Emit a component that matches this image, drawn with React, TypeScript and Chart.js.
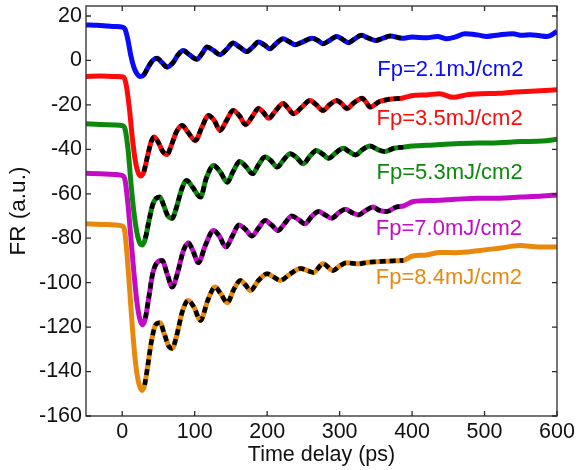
import React, { useEffect, useRef } from "react";
import { Chart, registerables } from "chart.js";

Chart.register(...registerables);

// ---- axis ticks ----
const xTicks = [0, 100, 200, 300, 400, 500, 600];
const yTicks = [-160, -140, -120, -100, -80, -60, -40, -20, 0, 20];

// ---- series: time delay (ps) and FR (a.u.) ----
const blueT = [-50,-35,-20,-10,0,4,8,12,16,20,25,30,35,42,48,55,62,70,77,84,93,103,110,117,126,135,144,153,162,172,180,188,196,204,212,222,230,239,250,262,270,277,286,296,304,312,320,330,340,350,360,370,386,400,420,435,448,460,473,490,503,520,539,552,563,575,586,600];
const blueR = [16,15.8,15.5,15.3,15,14,9,2,-3,-5.8,-7.2,-6.5,-3.5,0,1,-1,-3,-1,2.5,4.5,2.5,0.5,3,6,4.5,2.6,5,7.8,6,4,6,8.3,7,5.3,7.5,9.8,8.5,7.1,8.5,10,9,7.5,9,10.8,9.5,8,9.5,11.3,10,9,10,11,10,10.5,10.2,10.8,9.8,10.6,12,11.5,10.8,11.5,12,11.3,11.6,11.2,10.8,13];

const redT = [-50,-30,-10,0,3,6,10,14,18,22,26,30,35,40,44,50,56,62,68,75,83,90,101,110,119,127,135,144,153,162,170,180,188,195,202,212,222,229,236,248,259,268,277,286,296,303,310,320,331,337,342,355,368,386,401,420,438,457,475,494,520,539,570,600];
const redR = [-7.2,-7,-7.2,-7.3,-8,-12,-22,-35,-45,-50.5,-52,-50,-43,-36.5,-34.5,-37,-41,-42.3,-38,-32,-29.3,-32,-36,-30,-24.8,-27,-31.5,-27,-22.5,-25,-28.8,-25,-21.6,-23.5,-26,-22.5,-19.4,-21.5,-24,-21,-18,-20,-22.5,-20,-18,-19.5,-21.6,-19,-17,-19,-21,-18.5,-17.5,-17,-15.8,-15.5,-15,-16.6,-15.5,-15,-14.8,-14.3,-13.8,-13.2];

const greenT = [-50,-30,-10,0,4,8,12,16,20,24,28,32,37,42,47,52,57,63,69,75,82,89,97,108,116,126,135,145,153,162,170,180,188,197,205,214,222,232,240,250,258,268,276,285,295,305,313,322,332,342,352,362,375,388,400,430,460,490,520,550,580,600];
const greenR = [-28.5,-28.8,-29,-29.3,-31,-40,-55,-68,-77,-82,-83,-80,-72,-65,-62,-61.5,-65,-70,-71,-66,-58,-54,-57,-61.5,-53,-47.3,-50,-54.8,-50,-45.5,-47.5,-51,-47,-43.5,-45,-48,-45,-42,-43.5,-46.5,-43.5,-40.5,-42,-44,-41.5,-39.5,-41,-42.5,-40,-38.5,-40,-41,-39.5,-39,-38.5,-38,-37.5,-37.2,-37,-36.5,-36.3,-35.5];

const magentaT = [-50,-30,-10,0,4,8,12,16,20,24,28,32,37,42,48,55,62,69,76,84,91,98,105,115,126,134,143,152,161,170,179,188,197,206,215,225,234,243,252,262,271,280,289,299,308,317,326,336,346,355,365,378,388,402,430,460,490,520,550,580,600];
const magentaR = [-50.8,-51,-51.3,-51.8,-54,-65,-80,-95,-108,-116,-119,-116,-106,-96,-91,-90,-96,-102,-96,-86,-82,-86,-91,-83,-76.5,-79,-84,-79,-74,-76,-79,-75.5,-72,-74,-76.5,-73,-70,-71.5,-73.5,-70,-68,-69.5,-71,-68.5,-67,-68.5,-69.5,-67.5,-66,-67.5,-68,-66,-65.5,-63.5,-63,-62.5,-62,-62,-61.5,-61,-60.5];

const orangeT = [-50,-30,-10,0,3,6,10,14,18,22,27,31,35,40,46,52,58,64,69,75,83,91,99,108,118,128,136,145,154,163,170,177,188,200,209,218,232,246,255,264,277,291,300,310,325,340,356,372,388,401,420,438,460,494,520,549,575,600];
const orangeR = [-73.5,-73.8,-74,-74.5,-76,-85,-102,-120,-135,-144,-148.5,-146,-138,-127,-119,-118,-123,-128.5,-129.6,-124,-113,-108,-111,-117,-108,-102,-105,-109,-103,-99,-101,-103.5,-99,-96,-97.5,-99,-96,-93.6,-94.5,-95.4,-91.5,-94.5,-92.5,-91,-91.5,-90.8,-90.5,-90.2,-90,-88,-87.5,-86.4,-86.5,-85.5,-84.5,-83.3,-84,-84];

// ---- fit ranges (ps) ----
const fitStart = [30, 30, 32, 32, 31];
const fitEnd = [388, 388, 388, 388, 388];

// ---- labels ----
const labelTexts = ["Fp=2.1mJ/cm2", "Fp=3.5mJ/cm2", "Fp=5.3mJ/cm2", "Fp=7.0mJ/cm2", "Fp=8.4mJ/cm2"];
const labelX = [352, 351, 351, 350, 350];
const labelY = [-4.2, -26.3, -50.5, -75.8, -97.8];
const colors = ["#0a0aff", "#ff0a0a", "#0c880c", "#c40cc8", "#e8890e"];

const FONT = "'Liberation Sans', Arial, Helvetica, sans-serif";

export default function App() {
  const ref = useRef<HTMLCanvasElement>(null);

  useEffect(() => {
    document.body.style.margin = "0";
    const canvas = ref.current;
    if (!canvas) return;

    const seriesT = [blueT, redT, greenT, magentaT, orangeT];
    const seriesR = [blueR, redR, greenR, magentaR, orangeR];

    const rawSets = seriesT.map((t, i) => ({
      label: labelTexts[i],
      data: t.map((x, k) => ({ x, y: seriesR[i][k] })),
      borderColor: colors[i],
      borderWidth: 5,
      pointRadius: 0,
      showLine: true,
      cubicInterpolationMode: "monotone" as const,
      fill: false,
      order: 1,
    }));

    const fitSets = seriesT.map((t, i) => ({
      label: labelTexts[i] + " fit",
      data: t
        .map((x, k) => ({ x, y: seriesR[i][k] }))
        .filter((p) => p.x >= fitStart[i] && p.x <= fitEnd[i]),
      borderColor: "#000000",
      borderWidth: 4.5,
      borderDash: [6, 4],
      pointRadius: 0,
      showLine: true,
      cubicInterpolationMode: "monotone" as const,
      fill: false,
      order: 0,
    }));

    const framePlugin = {
      id: "frame",
      afterDraw(chart: any) {
        const { ctx, chartArea: a, scales } = chart;
        ctx.save();
        ctx.strokeStyle = "#2a2a2a";
        ctx.lineWidth = 1.3;
        ctx.strokeRect(a.left, a.top, a.right - a.left, a.bottom - a.top);
        const len = 5;
        ctx.beginPath();
        scales.x.ticks.forEach((tk: any) => {
          const px = scales.x.getPixelForValue(tk.value);
          ctx.moveTo(px, a.bottom);
          ctx.lineTo(px, a.bottom - len);
          ctx.moveTo(px, a.top);
          ctx.lineTo(px, a.top + len);
        });
        scales.y.ticks.forEach((tk: any) => {
          const py = scales.y.getPixelForValue(tk.value);
          ctx.moveTo(a.left, py);
          ctx.lineTo(a.left + len, py);
          ctx.moveTo(a.right, py);
          ctx.lineTo(a.right - len, py);
        });
        ctx.stroke();
        ctx.restore();
      },
    };

    const labelPlugin = {
      id: "seriesLabels",
      afterDatasetsDraw(chart: any) {
        const { ctx, scales } = chart;
        ctx.save();
        ctx.font = `22px ${FONT}`;
        ctx.textAlign = "left";
        ctx.textBaseline = "middle";
        labelTexts.forEach((txt, i) => {
          ctx.fillStyle = colors[i];
          ctx.fillText(txt, scales.x.getPixelForValue(labelX[i]), scales.y.getPixelForValue(labelY[i]));
        });
        ctx.restore();
      },
    };

    const chart = new Chart(canvas, {
      type: "scatter",
      data: { datasets: [...fitSets, ...rawSets] as any },
      options: {
        responsive: false,
        animation: false,
        layout: { padding: { top: 6, right: 19, left: 0, bottom: 0 } },
        plugins: { legend: { display: false }, tooltip: { enabled: false } },
        scales: {
          x: {
            type: "linear",
            min: -50,
            max: 600,
            grid: { display: false, drawTicks: false },
            border: { display: false },
            ticks: { padding: 3, color: "#111", font: { family: FONT, size: 21.5 }, maxRotation: 0 },
            afterBuildTicks: (s: any) => {
              s.ticks = xTicks.map((v) => ({ value: v }));
            },
            afterFit: (s: any) => {
              s.height = 54;
              s.paddingLeft = 0;
              s.paddingRight = 0;
            },
            title: {
              display: true,
              text: "Time delay (ps)",
              color: "#111",
              font: { family: FONT, size: 21.5 },
              padding: { top: 0, bottom: 2 },
            },
          },
          y: {
            type: "linear",
            min: -160,
            max: 24.5,
            grid: { display: false, drawTicks: false },
            border: { display: false },
            ticks: { padding: 4, color: "#111", font: { family: FONT, size: 21.5 } },
            afterBuildTicks: (s: any) => {
              s.ticks = yTicks.map((v) => ({ value: v }));
            },
            afterFit: (s: any) => {
              s.width = 86;
              s.paddingTop = 0;
              s.paddingBottom = 0;
            },
            title: {
              display: true,
              text: "FR (a.u.)",
              color: "#111",
              font: { family: FONT, size: 22.5 },
              padding: { top: 5, bottom: 0 },
            },
          },
        },
      },
      plugins: [framePlugin, labelPlugin],
    });

    return () => chart.destroy();
  }, []);

  return <canvas ref={ref} width={576} height={470} style={{ display: "block" }} />;
}
